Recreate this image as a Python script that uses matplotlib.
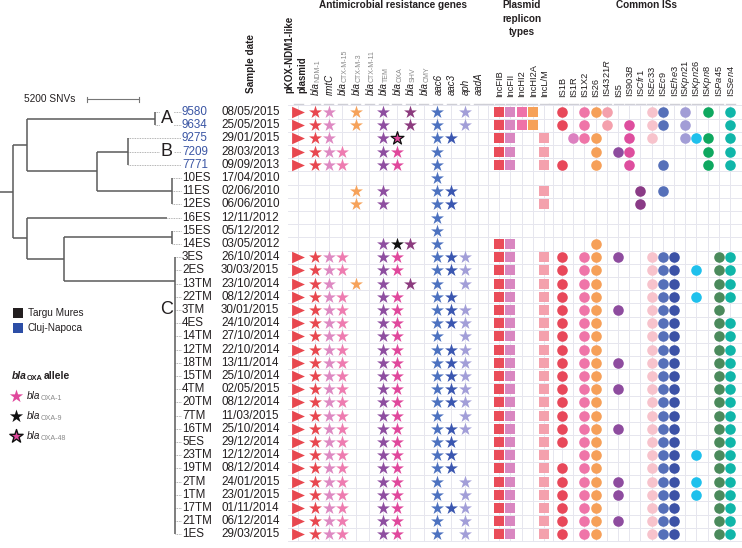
import matplotlib
matplotlib.use('Agg')
import matplotlib.pyplot as plt
from matplotlib.path import Path

plt.rcParams['font.family'] = ['Liberation Sans', 'DejaVu Sans']
plt.rcParams['mathtext.fontset'] = 'custom'
plt.rcParams['mathtext.rm'] = 'Liberation Sans'
plt.rcParams['mathtext.it'] = 'Liberation Sans:italic'
plt.rcParams['mathtext.bf'] = 'Liberation Sans:bold'

# ---------------- data ----------------
sample_ids = ['9580', '9634', '9275', '7209', '7771', '10ES', '11ES', '12ES', '16ES',
              '15ES', '14ES', '3ES', '2ES', '13TM', '22TM', '3TM', '4ES', '14TM', '12TM',
              '18TM', '15TM', '4TM', '20TM', '7TM', '16TM', '5ES', '23TM', '19TM', '2TM',
              '1TM', '17TM', '21TM', '1ES']
sample_dates = ['08/05/2015', '25/05/2015', '29/01/2015', '28/03/2013', '09/09/2013',
                '17/04/2010', '02/06/2010', '06/06/2010', '12/11/2012', '05/12/2012',
                '03/05/2012', '26/10/2014', '30/03/2015', '23/10/2014', '08/12/2014',
                '30/01/2015', '24/10/2014', '27/10/2014', '22/10/2014', '13/11/2014',
                '25/10/2014', '02/05/2015', '08/12/2014', '11/03/2015', '25/10/2014',
                '29/12/2014', '12/12/2014', '08/12/2014', '24/01/2015', '23/01/2015',
                '01/11/2014', '06/12/2014', '29/03/2015']
sample_site = ['CN', 'CN', 'CN', 'CN', 'CN', 'TM', 'TM', 'TM', 'TM', 'TM', 'TM', 'TM',
               'TM', 'TM', 'TM', 'TM', 'TM', 'TM', 'TM', 'TM', 'TM', 'TM', 'TM', 'TM',
               'TM', 'TM', 'TM', 'TM', 'TM', 'TM', 'TM', 'TM', 'TM']

gene_cols = ['pKOX', 'NDM-1', 'rmtC', 'CTX-M-15', 'CTX-M-3', 'CTX-M-11', 'TEM', 'OXA',
             'SHV', 'CMY', 'aac6', 'aac3', 'aph', 'aadA']
gene_labels = ['', 'NDM-1', 'rmtC', 'CTX-M-15', 'CTX-M-3', 'CTX-M-11', 'TEM', 'OXA',
               'SHV', 'CMY', 'aac6', 'aac3', 'aph', 'aadA']
gene_colors = ['#e8474f', '#e8474f', '#de89c2', '#ee7cb0', '#f6a25a', '#f6a25a', '#8e4ea0',
               '#e0489c', '#8c3b7e', '#8c3b7e', '#4d72c0', '#3a56b0', '#a29ed8', '#a29ed8']

rep_cols = ['IncFIB', 'IncFII', 'IncHI2', 'IncHI2A', 'IncL/M']
rep_colors = ['#ea4c59', '#d986c0', '#ef72a8', '#f6a159', '#f4a1ad']

is_cols = ['IS1B', 'IS1R', 'IS1X2', 'IS26', 'IS4321R', 'IS5', 'IS903B', 'ISCfr1', 'ISEc33',
           'ISEc9', 'ISEhe3', 'ISKpn21', 'ISKpn26', 'ISKpn8', 'ISPa45', 'ISSen4']
is_labels = ['IS1B', 'IS1R', 'IS1X2', 'IS26', r'IS4321$\mathit{R}$', 'IS5', r'IS903$\mathit{B}$',
             r'IS$\mathit{Cfr1}$', r'IS$\mathit{Ec33}$', r'IS$\mathit{Ec9}$', r'IS$\mathit{Ehe3}$',
             r'IS$\mathit{Kpn21}$', r'IS$\mathit{Kpn26}$', r'IS$\mathit{Kpn8}$', r'IS$\mathit{Pa45}$',
             r'IS$\mathit{Sen4}$']
is_colors = ['#e8485a', '#dc80c0', '#ef75a8', '#f6a059', '#f4a0ac', '#8e4c9f', '#de4e9e',
             '#8a3b86', '#f7c3cc', '#5670b9', '#3c52a6', '#a29dd6', '#1fc0ec', '#0fa860',
             '#4b8a5c', '#10b6a9']

genes = [
    'pKOX NDM-1 rmtC CTX-M-3 TEM SHV aac6 aph',
    'pKOX NDM-1 rmtC CTX-M-3 TEM SHV aac6 aph',
    'pKOX NDM-1 rmtC TEM OXA aac6 aac3',
    'pKOX NDM-1 rmtC CTX-M-15 TEM OXA aac6',
    'pKOX NDM-1 rmtC CTX-M-15 TEM OXA aac6',
    'aac6',
    'CTX-M-3 TEM aac6 aac3',
    'CTX-M-3 TEM aac6 aac3',
    'aac6',
    'aac6',
    'TEM OXA SHV aac6',
    'pKOX NDM-1 rmtC CTX-M-15 TEM OXA aac6 aac3 aph',
    'pKOX NDM-1 rmtC CTX-M-15 TEM OXA aac6 aac3 aph',
    'pKOX NDM-1 rmtC CTX-M-3 TEM SHV aac6 aph',
    'pKOX NDM-1 rmtC CTX-M-15 TEM OXA aac6 aac3',
    'pKOX NDM-1 rmtC CTX-M-15 TEM OXA aac6 aac3 aph',
    'pKOX NDM-1 rmtC CTX-M-15 TEM OXA aac6 aac3 aph',
    'pKOX NDM-1 rmtC CTX-M-15 TEM OXA aac6 aph',
    'pKOX NDM-1 rmtC CTX-M-15 TEM OXA aac6 aac3 aph',
    'pKOX NDM-1 rmtC CTX-M-15 TEM OXA aac6 aac3 aph',
    'pKOX NDM-1 rmtC CTX-M-15 TEM OXA aac6 aac3 aph',
    'pKOX NDM-1 rmtC CTX-M-15 TEM OXA aac6 aac3 aph',
    'pKOX NDM-1 rmtC CTX-M-15 TEM OXA aac6 aac3 aph',
    'pKOX NDM-1 rmtC CTX-M-15 TEM OXA aac6 aph',
    'pKOX NDM-1 rmtC CTX-M-15 TEM OXA aac6 aac3 aph',
    'pKOX NDM-1 rmtC CTX-M-15 TEM OXA aac6 aac3',
    'pKOX NDM-1 rmtC CTX-M-15 TEM OXA aac6 aac3',
    'pKOX NDM-1 rmtC CTX-M-15 TEM OXA aac6 aac3',
    'pKOX NDM-1 rmtC CTX-M-15 TEM OXA aac6 aph',
    'pKOX NDM-1 rmtC CTX-M-15 TEM OXA aac6 aph',
    'pKOX NDM-1 rmtC CTX-M-15 TEM OXA aac6 aac3 aph',
    'pKOX NDM-1 rmtC CTX-M-15 TEM OXA aac6 aph',
    'pKOX NDM-1 rmtC CTX-M-15 TEM OXA aac6 aph',
]
oxa_allele = ['', '', 'OXA-48', 'OXA-1', 'OXA-1', '', '', '', '', '', 'OXA-9', 'OXA-1',
              'OXA-1', '', 'OXA-1', 'OXA-1', 'OXA-1', 'OXA-1', 'OXA-1', 'OXA-1', 'OXA-1',
              'OXA-1', 'OXA-1', 'OXA-1', 'OXA-1', 'OXA-1', 'OXA-1', 'OXA-1', 'OXA-1',
              'OXA-1', 'OXA-1', 'OXA-1', 'OXA-1']

replicons = [
    'IncFIB IncFII IncHI2 IncHI2A', 'IncFIB IncFII IncHI2 IncHI2A',
    'IncFIB IncFII IncL/M', 'IncFIB IncFII IncL/M', 'IncFIB IncFII IncL/M',
    '', 'IncL/M', 'IncL/M', '', '', 'IncFIB IncFII',
] + ['IncFIB IncFII IncL/M'] * 22

IS_C = 'IS1B IS1X2 IS26 ISEc33 ISEc9 ISEhe3 ISPa45 ISSen4'
insertion_seqs = [
    'IS1B IS1X2 IS26 IS4321R ISEc33 ISEc9 ISKpn21 ISKpn8 ISSen4',
    'IS1B IS1X2 IS4321R IS903B ISEc33 ISEc9 ISKpn21 ISSen4',
    'IS1R IS1X2 IS26 IS903B ISEc33 ISKpn21 ISKpn26 ISKpn8 ISSen4',
    'IS26 IS5 IS903B ISKpn8 ISSen4',
    'IS1B IS26 IS903B ISEc9 ISKpn8 ISSen4',
    '',
    'ISCfr1 ISEc9',
    'ISCfr1',
    '',
    '',
    'IS26',
    IS_C + ' IS5',                                    # 3ES
    IS_C + ' ISKpn26',                                # 2ES
    IS_C,                                             # 13TM
    IS_C + ' ISKpn26',                                # 22TM
    'IS1B IS1X2 IS26 IS5 ISEc33 ISEc9 ISEhe3 ISPa45',  # 3TM
    IS_C, IS_C, IS_C,                                 # 4ES 14TM 12TM
    IS_C + ' IS5',                                    # 18TM
    IS_C,                                             # 15TM
    IS_C + ' IS5',                                    # 4TM
    IS_C, IS_C,                                       # 20TM 7TM
    IS_C + ' IS5',                                    # 16TM
    IS_C,                                             # 5ES
    'IS1X2 IS26 ISEc33 ISEc9 ISEhe3 ISKpn26 ISPa45 ISSen4',  # 23TM
    IS_C,                                             # 19TM
    IS_C + ' IS5 ISKpn26',                            # 2TM
    IS_C + ' IS5 ISKpn26',                            # 1TM
    IS_C,                                             # 17TM
    IS_C + ' IS5',                                    # 21TM
    IS_C,                                             # 1ES
]

# tree: (clade letter, branch length in SNVs, children, attach row)
tree = ('', 1300, [
    ('', 1400, [
        ('A', 12800, ['9580', '9634'], None),
        ('', 7000, [
            ('B', 3100, ['9275', '7209', '7771'], None),
            ('', 7500, ['10ES', '11ES', '12ES'], None),
        ], None),
    ], None),
    ('', 1400, [
        ('', 14000, ['16ES'], None),
        ('', 3700, [
            ('', 10800, ['15ES', '14ES'], None),
            ('C', 11100, ['3ES', '2ES', '13TM', '22TM', '3TM', '4ES', '14TM', '12TM',
                          '18TM', '15TM', '4TM', '20TM', '7TM', '16TM', '5ES', '23TM',
                          '19TM', '2TM', '1TM', '17TM', '21TM', '1ES'], 12.8),
        ], None),
    ], None),
], None)
clade_letter_row = {'A': 0.5, 'B': 3.0, 'C': 15.0}
scale_snvs = 5200

# ---------------- layout ----------------
ROW0, ROWH = 112, 13.2
SNV_PX = 1 / 100.0
TIP_X, DATE_X = 182, 221
LETTER_X = 167
gene_x = [298] + [315 + 13.6 * k for k in range(13)]
rep_x = [499 + 11.25 * k for k in range(5)]
is_x = [562 + 11.2 * k for k in range(16)]
gap_x = [488, 553]
TXT = '#231f20'
TREE_C = '#5a5a5a'
GRID_C = '#e6e6ee'


def row_y(i):
    return ROW0 + ROWH * i


fig = plt.figure(figsize=(7.42, 5.48), dpi=100)
ax = fig.add_axes([0, 0, 1, 1])
ax.set_xlim(0, 742)
ax.set_ylim(548, 0)
ax.axis('off')

n = len(sample_ids)

# grid
y_top, y_bot = row_y(-0.5), row_y(n - 0.5)
for x in gene_x + rep_x + is_x + gap_x:
    ax.plot([x, x], [y_top, y_bot], color=GRID_C, lw=0.7, zorder=0)
    ax.plot([x - 4.5, x + 4.5], [y_top - 1, y_top - 1], color='#cfcfd6', lw=1.0, zorder=0)
for i in range(n + 1):
    y = row_y(i - 0.5)
    ax.plot([288, 742], [y, y], color=GRID_C, lw=0.7, zorder=0)


# tree
def draw_node(node, x0):
    letter, length, children, attach = node
    x1 = x0 + length * SNV_PX
    if all(isinstance(c, str) for c in children):
        ys = [row_y(sample_ids.index(c)) for c in children]
        for y in ys:
            ax.plot([x1, TIP_X - 1], [y, y], color='#9a9a9a', lw=0.6, ls=(0, (1, 1)), zorder=1)
    else:
        ys = [draw_node(c, x1) for c in children]
    if len(ys) > 1:
        ax.plot([x1, x1], [min(ys), max(ys)], color=TREE_C, lw=1.1, solid_capstyle='butt', zorder=2)
    ya = row_y(attach) if attach is not None else (min(ys) + max(ys)) / 2
    ax.plot([x0, x1], [ya, ya], color=TREE_C, lw=1.1, solid_capstyle='butt', zorder=2)
    if letter:
        ax.text(LETTER_X, row_y(clade_letter_row[letter]), letter, fontsize=13, color=TXT,
                ha='center', va='center', zorder=3,
                bbox=dict(boxstyle='square,pad=0.05', fc='white', ec='none'))
    return ya


draw_node(tree, 0)

# scale bar
sb_y = 99
ax.plot([87, 87 + scale_snvs * SNV_PX], [sb_y, sb_y], color='#777777', lw=0.8)
for xx in (87, 87 + scale_snvs * SNV_PX):
    ax.plot([xx, xx], [sb_y - 2.5, sb_y + 2.5], color='#777777', lw=0.8)
ax.text(75, sb_y, '%d SNVs' % scale_snvs, fontsize=7.3, color=TXT, ha='right', va='center')

# tip labels
for i, (sid, d, s) in enumerate(zip(sample_ids, sample_dates, sample_site)):
    y = row_y(i)
    ax.text(TIP_X, y, sid, fontsize=8.4, color='#3a55a4' if s == 'CN' else TXT,
            ha='left', va='center')
    ax.text(DATE_X, y, d, fontsize=8.4, color=TXT, ha='left', va='center')

# markers
tri = Path([(-1, -0.9), (1, 0), (-1, 0.9), (-1, -0.9)],
           [Path.MOVETO, Path.LINETO, Path.LINETO, Path.CLOSEPOLY])
oxa_style = {'OXA-1': ('#e0489c', '#e0489c'), 'OXA-9': ('#111111', '#111111'),
             'OXA-48': ('#e0489c', '#111111')}
for i in range(n):
    y = row_y(i)
    for g in genes[i].split():
        k = gene_cols.index(g)
        if g == 'pKOX':
            ax.scatter(gene_x[k], y, s=85, marker=tri, color=gene_colors[k], lw=0, zorder=4)
        elif g == 'OXA':
            fc, ec = oxa_style[oxa_allele[i]]
            ax.scatter(gene_x[k], y, s=95, marker='*', facecolor=fc, edgecolor=ec,
                       lw=0.9 if oxa_allele[i] == 'OXA-48' else 0, zorder=4)
        else:
            ax.scatter(gene_x[k], y, s=95, marker='*', color=gene_colors[k], lw=0, zorder=4)
    for r in replicons[i].split():
        k = rep_cols.index(r)
        ax.scatter(rep_x[k], y, s=52, marker='s', color=rep_colors[k], lw=0, zorder=4)
    for r in insertion_seqs[i].split():
        k = is_cols.index(r)
        ax.scatter(is_x[k], y, s=58, marker='o', color=is_colors[k], lw=0, zorder=4)

# column headers
LAB_Y = 95
LAB_FS = 7.0
IS_FS = 6.7


def bla_label(x, y, sub, rot=True, size=LAB_FS, color=TXT, subcolor='#8a8a8a'):
    if rot:
        ax.text(x, y, 'bla', fontsize=size, style='italic', color=color, rotation=90,
                rotation_mode='anchor', ha='left', va='center')
        ax.annotate(sub, (x, y), xytext=(1.6, size * 1.36), textcoords='offset points',
                    fontsize=size * 0.72, color=subcolor, rotation=90,
                    rotation_mode='anchor', ha='left', va='center')
    else:
        ax.text(x, y, 'bla', fontsize=size, style='italic', color=color, ha='left', va='center')
        ax.annotate(sub, (x, y), xytext=(size * 1.36, -1.8), textcoords='offset points',
                    fontsize=size * 0.72, color=subcolor, ha='left', va='center')


for k, lab in enumerate(gene_labels):
    x = gene_x[k] + 1
    if k == 0:
        continue
    if lab in ('rmtC', 'aac6', 'aac3', 'aph', 'aadA'):
        ax.text(x, LAB_Y, lab, fontsize=LAB_FS, style='italic', color=TXT, rotation=90,
                rotation_mode='anchor', ha='left', va='center')
    else:
        bla_label(x, LAB_Y, lab)
for k, lab in enumerate(rep_cols):
    ax.text(rep_x[k] + 0.5, LAB_Y + 2, lab, fontsize=IS_FS, color=TXT, rotation=90,
            rotation_mode='anchor', ha='left', va='center')
for k, lab in enumerate(is_labels):
    ax.text(is_x[k] + 0.5, LAB_Y + 2, lab, fontsize=IS_FS, color=TXT, rotation=90,
            rotation_mode='anchor', ha='left', va='center')

ax.text(289, LAB_Y - 2, 'pKOX-NDM1-like', fontsize=7.0, weight='bold', color=TXT, rotation=90,
        rotation_mode='anchor', ha='left', va='center')
ax.text(302, LAB_Y - 2, 'plasmid', fontsize=7.0, weight='bold', color=TXT, rotation=90,
        rotation_mode='anchor', ha='left', va='center')
ax.text(251, LAB_Y - 2, 'Sample date', fontsize=7.2, weight='bold', color=TXT, rotation=90,
        rotation_mode='anchor', ha='left', va='center')

ax.text(393, 5, 'Antimicrobial resistance genes', fontsize=7.2, weight='bold', color=TXT,
        ha='center', va='center')
ax.text(522, 0.5, 'Plasmid\nreplicon\ntypes', fontsize=7.2, weight='bold', color=TXT,
        ha='center', va='top', linespacing=1.4)
ax.text(646, 5, 'Common ISs', fontsize=7.2, weight='bold', color=TXT, ha='center', va='center')

# legend
ax.scatter(18, 313, s=45, marker='s', color='#231f20', lw=0)
ax.text(28, 313, 'Targu Mures', fontsize=7.2, color=TXT, ha='left', va='center')
ax.scatter(18, 328, s=45, marker='s', color='#2d4ea6', lw=0)
ax.text(28, 328, 'Cluj-Napoca', fontsize=7.2, color=TXT, ha='left', va='center')

ax.text(12, 376, 'bla', fontsize=7.4, style='italic', weight='bold', color=TXT,
        ha='left', va='center')
ax.annotate('OXA', (12, 376), xytext=(10.6, -1.8), textcoords='offset points', fontsize=5.3,
            weight='bold', color=TXT, ha='left', va='center')
ax.annotate('allele', (12, 376), xytext=(22.5, 0), textcoords='offset points', fontsize=7.4,
            weight='bold', color=TXT, ha='left', va='center')
for yy, allele in zip([396, 416, 436], ['OXA-1', 'OXA-9', 'OXA-48']):
    fc, ec = oxa_style[allele]
    ax.scatter(16, yy, s=100, marker='*', facecolor=fc, edgecolor=ec,
               lw=1.0 if allele == 'OXA-48' else 0)
    bla_label(27, yy, allele, rot=False, size=7.2, color=TXT)

fig.savefig('out.png', dpi=100)
